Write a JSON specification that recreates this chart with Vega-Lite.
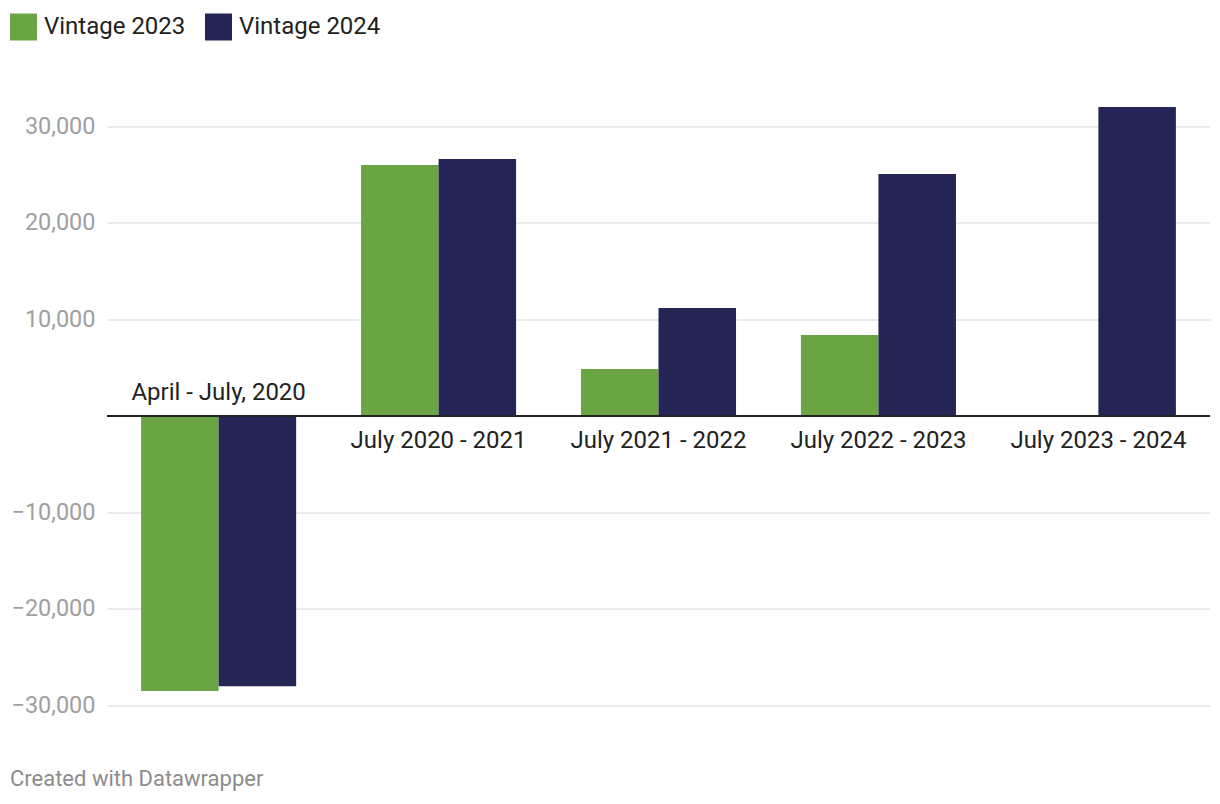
{
  "$schema": "https://vega.github.io/schema/vega-lite/v6.json",
  "autosize": {"type": "none"},
  "width": 1103,
  "height": 617.6,
  "padding": {"left": 107, "top": 97.5, "right": 10, "bottom": 89},
  "background": "white",
  "config": {
    "font": "Roboto",
    "view": {"stroke": null}
  },
  "data": {
    "values": [
      {"period": "April - July, 2020", "vintage": "Vintage 2023", "value": -28500},
      {"period": "April - July, 2020", "vintage": "Vintage 2024", "value": -28000},
      {"period": "July 2020 - 2021", "vintage": "Vintage 2023", "value": 26000},
      {"period": "July 2020 - 2021", "vintage": "Vintage 2024", "value": 26630},
      {"period": "July 2021 - 2022", "vintage": "Vintage 2023", "value": 4870},
      {"period": "July 2021 - 2022", "vintage": "Vintage 2024", "value": 11190},
      {"period": "July 2022 - 2023", "vintage": "Vintage 2023", "value": 8390},
      {"period": "July 2022 - 2023", "vintage": "Vintage 2024", "value": 25080},
      {"period": "July 2023 - 2024", "vintage": "Vintage 2024", "value": 32020}
    ]
  },
  "title": {
    "text": "Created with Datawrapper",
    "orient": "bottom",
    "anchor": "start",
    "frame": "group",
    "dx": -97,
    "offset": 52,
    "fontSize": 22,
    "fontWeight": "normal",
    "color": "#8c8c8c",
    "font": "Roboto"
  },
  "layer": [
    {
      "mark": {"type": "bar"},
      "encoding": {
        "x": {
          "field": "period",
          "type": "nominal",
          "sort": null,
          "scale": {"paddingInner": 0.295, "paddingOuter": 0.155},
          "axis": null
        },
        "xOffset": {
          "field": "vintage",
          "type": "nominal",
          "scale": {"paddingInner": 0, "paddingOuter": 0}
        },
        "y": {
          "field": "value",
          "type": "quantitative",
          "scale": {"domain": [-31000, 33000], "nice": false},
          "axis": {
            "values": [-30000, -20000, -10000, 10000, 20000, 30000],
            "format": ",.0f",
            "title": null,
            "domain": false,
            "ticks": false,
            "labelFontSize": 23.5,
            "labelColor": "#a0a0a0",
            "labelPadding": 12,
            "gridColor": "#e3e3e3",
            "gridWidth": 1.5,
            "labelFont": "Roboto"
          }
        },
        "color": {
          "field": "vintage",
          "type": "nominal",
          "scale": {"domain": ["Vintage 2023", "Vintage 2024"], "range": ["#6aa443", "#252555"]},
          "legend": {
            "title": null,
            "orient": "none",
            "legendX": -97,
            "legendY": -84,
            "direction": "horizontal",
            "symbolType": "square",
            "symbolSize": 729,
            "symbolStrokeWidth": 0,
            "labelFontSize": 24,
            "labelColor": "#222222",
            "labelFont": "Roboto",
            "labelOffset": 7,
            "columnPadding": 19,
            "labelLimit": 300
          }
        }
      }
    },
    {
      "mark": {"type": "rule", "color": "#222222", "strokeWidth": 2},
      "encoding": {"y": {"datum": 0}}
    },
    {
      "transform": [{"filter": "datum.vintage == 'Vintage 2024' && datum.value >= 0"}],
      "mark": {"type": "text", "fontSize": 24, "color": "#222222", "baseline": "middle", "dy": 25, "font": "Roboto"},
      "encoding": {
        "x": {"field": "period", "type": "nominal", "sort": null},
        "y": {"datum": 0},
        "text": {"field": "period"}
      }
    },
    {
      "transform": [{"filter": "datum.vintage == 'Vintage 2024' && datum.value < 0"}],
      "mark": {"type": "text", "fontSize": 24, "color": "#222222", "baseline": "middle", "dy": -23, "font": "Roboto"},
      "encoding": {
        "x": {"field": "period", "type": "nominal", "sort": null},
        "y": {"datum": 0},
        "text": {"field": "period"}
      }
    }
  ]
}
